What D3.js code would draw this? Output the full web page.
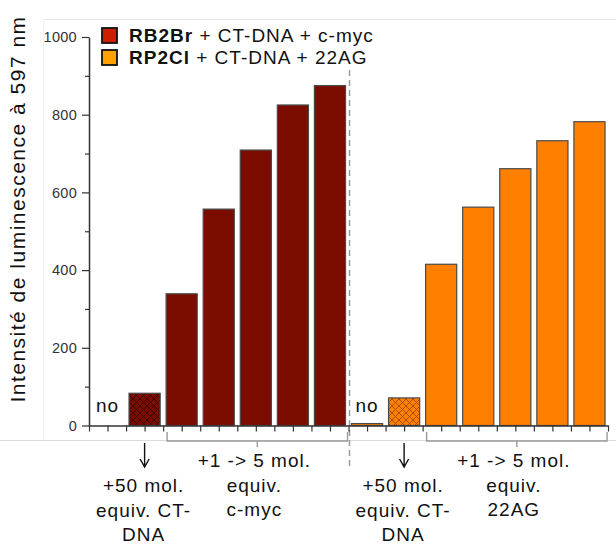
<!DOCTYPE html>
<html>
<head>
<meta charset="utf-8">
<script src="https://cdn.jsdelivr.net/npm/d3@7"></script>
<style>
  body { margin: 0; background: #fff; }
  text { font-family: "Liberation Sans", Arial, sans-serif; }
</style>
</head>
<body>
<div id="chart"></div>
<script>
const width = 616, height = 545;
const margin = ({top: 37, right: 8, bottom: 119, left: 89});

// data
const groups = ["RB2Br", "RP2Cl"];
const slots = ["no", "CT-DNA", "1", "2", "3", "4", "5"];
const valuesRB = [0, 83, 339, 557, 709, 825, 875];
const valuesRP = [5, 71, 415, 562, 661, 733, 782];
const yTicks = [0, 200, 400, 600, 800, 1000];
const yMinor = [100, 300, 500, 700, 900];
const fills = ["#7b0c00", "#ff8000"];
const legendFills = ["#cc1f00", "#ffa000"];
const legendRest = [" + CT-DNA + c-myc", " + CT-DNA + 22AG"];
const lowLabels = [
  [["+50 mol.", "equiv. CT-", "DNA"], ["+1 -> 5 mol.", "equiv.", "c-myc"]],
  [["+50 mol.", "equiv. CT-", "DNA"], ["+1 -> 5 mol.", "equiv.", "22AG"]]
];

let data = [];
groups.forEach((g, gi) => {
  let vals = gi === 0 ? valuesRB : valuesRP;
  slots.forEach((s, si) => data.push({group: g, gi: gi, slot: s, si: si, key: g + "-" + s, value: vals[si]}));
});

const x = d3.scaleBand()
  .domain(data.map(d => d.key))
  .range([margin.left, width - margin.right])
  .paddingInner(0.16).paddingOuter(0.08);

const y = d3.scaleLinear()
  .domain([0, 1000])
  .range([height - margin.bottom - 0.5, margin.top]);

const xt = d3.scaleLinear().domain([0, data.length]).range([margin.left, width - margin.right]);

let svg = d3.select("#chart").append("svg").attr("width", width).attr("height", height);

// faint frame lines from the cropped figure
svg.append("line").attr("x1", 43).attr("x2", width).attr("y1", 19.5).attr("y2", 19.5)
  .attr("stroke", "#e6e6e6");
svg.append("line").attr("x1", 43.5).attr("x2", 43.5).attr("y1", 19).attr("y2", 440)
  .attr("stroke", "#f0f0f0");
svg.append("line").attr("x1", 0).attr("x2", width).attr("y1", 440.5).attr("y2", 440.5)
  .attr("stroke", "#dcdcdc");

// hatch patterns
const defs = svg.append("defs");
[["hatch0", fills[0], "#3a0500"], ["hatch1", fills[1], "#a04a00"]].forEach(p => {
  let pat = defs.append("pattern").attr("id", p[0]).attr("patternUnits", "userSpaceOnUse")
    .attr("width", 7).attr("height", 7);
  pat.append("rect").attr("width", 7).attr("height", 7).attr("fill", p[1]);
  pat.append("path").attr("d", "M0,0L7,7M7,0L0,7M-1,6L1,8M6,-1L8,1M-1,1L1,-1M6,8L8,6")
    .attr("stroke", p[2]).attr("stroke-width", 0.9);
});

// bars
svg.append("g").selectAll("rect").data(data).join("rect")
  .attr("x", d => x(d.key))
  .attr("y", d => y(d.value))
  .attr("width", x.bandwidth())
  .attr("height", d => y(0) - y(d.value))
  .attr("fill", d => d.si === 1 ? "url(#hatch" + d.gi + ")" : fills[d.gi])
  .attr("stroke", "#4a4a4a")
  .attr("stroke-width", 1.2);

// dashed separator
svg.append("line")
  .attr("x1", xt(7) + 1).attr("x2", xt(7) + 1)
  .attr("y1", 70).attr("y2", 466)
  .attr("stroke", "#9a9a9a").attr("stroke-width", 1.5).attr("stroke-dasharray", "6,4");

// x axis with ticks at slot centers and edges
const xAxis = d3.axisBottom(xt)
  .tickValues(d3.range(0, data.length + 0.01, 0.5))
  .tickFormat("").tickSize(6).tickSizeOuter(0);
let gx = svg.append("g").attr("transform", `translate(0,${y(0)})`).call(xAxis);
gx.select(".domain").attr("stroke", "#333").attr("stroke-width", 1.5);
gx.selectAll(".tick line").attr("stroke", "#333").attr("stroke-width", 1.2);

// y axis
let gy = svg.append("g").attr("transform", `translate(${margin.left},0)`)
  .call(d3.axisLeft(y).tickValues(yTicks).tickFormat(d3.format("d"))
    .tickSize(7).tickPadding(5).tickSizeOuter(0));
gy.select(".domain").attr("stroke", "#333").attr("stroke-width", 1.5);
gy.selectAll(".tick line").attr("stroke", "#333").attr("stroke-width", 1.2);
gy.selectAll(".tick text").attr("font-size", 14.5).attr("fill", "#333")
  .attr("letter-spacing", 0.3)
  .attr("font-family", "'Liberation Sans', Arial, sans-serif");
let gm = svg.append("g").attr("transform", `translate(${margin.left},0)`)
  .call(d3.axisLeft(y).tickValues(yMinor).tickSize(4).tickFormat("").tickSizeOuter(0));
gm.select(".domain").remove();
gm.selectAll(".tick line").attr("stroke", "#333").attr("stroke-width", 1.2);

// y label
svg.append("text")
  .attr("transform", `translate(25,${209}) rotate(-90)`)
  .attr("text-anchor", "middle")
  .attr("font-size", 21).attr("letter-spacing", 1.5).attr("fill", "#111")
  .text("Intensité de luminescence à 597 nm");

// legend
groups.forEach((g, gi) => {
  let ly = 28 + gi * 22;
  svg.append("rect").attr("x", 102).attr("y", ly).attr("width", 15).attr("height", 15)
    .attr("fill", legendFills[gi]).attr("stroke", "#111").attr("stroke-width", 1.8);
  let t = svg.append("text").attr("x", 129).attr("y", ly + 14).attr("font-size", 19)
    .attr("letter-spacing", 1).attr("fill", "#111");
  t.append("tspan").attr("font-weight", "bold").text(g);
  t.append("tspan").text(legendRest[gi]);
});

// annotations under each group
groups.forEach((g, gi) => {
  let noKey = g + "-no", ctKey = g + "-CT-DNA", first = g + "-1", last = g + "-5";
  svg.append("text")
    .attr("x", x(noKey) + x.bandwidth() / 2).attr("y", 412)
    .attr("text-anchor", "middle").attr("font-size", 19).attr("letter-spacing", 1).attr("fill", "#111")
    .text("no");

  // arrow below hatched bar
  let ax = x(ctKey) + x.bandwidth() / 2;
  svg.append("path")
    .attr("d", `M${ax},443V467M${ax - 4.5},459L${ax},467L${ax + 4.5},459`)
    .attr("fill", "none").attr("stroke", "#111").attr("stroke-width", 1.4);

  // bracket under the five titration bars
  let bx1 = x(first) + 1, bx2 = x(last) + x.bandwidth() + 2, bm = (bx1 + bx2) / 2;
  svg.append("path")
    .attr("d", `M${bx1},432V441H${bx2}V432M${bm},441V447`)
    .attr("fill", "none").attr("stroke", "#9a9a9a").attr("stroke-width", 1.4);

  let labs = lowLabels[gi];
  let c1 = ax - 1;
  labs[0].forEach((s, i) => {
    svg.append("text").attr("x", c1).attr("y", 492 + i * 24.5)
      .attr("text-anchor", "middle").attr("font-size", 19).attr("letter-spacing", 1)
      .attr("fill", "#111").text(s);
  });
  labs[1].forEach((s, i) => {
    svg.append("text").attr("x", bm - 3).attr("y", 467 + i * 24.5)
      .attr("text-anchor", "middle").attr("font-size", 19).attr("letter-spacing", 1)
      .attr("fill", "#111").text(s);
  });
});
</script>
</body>
</html>
